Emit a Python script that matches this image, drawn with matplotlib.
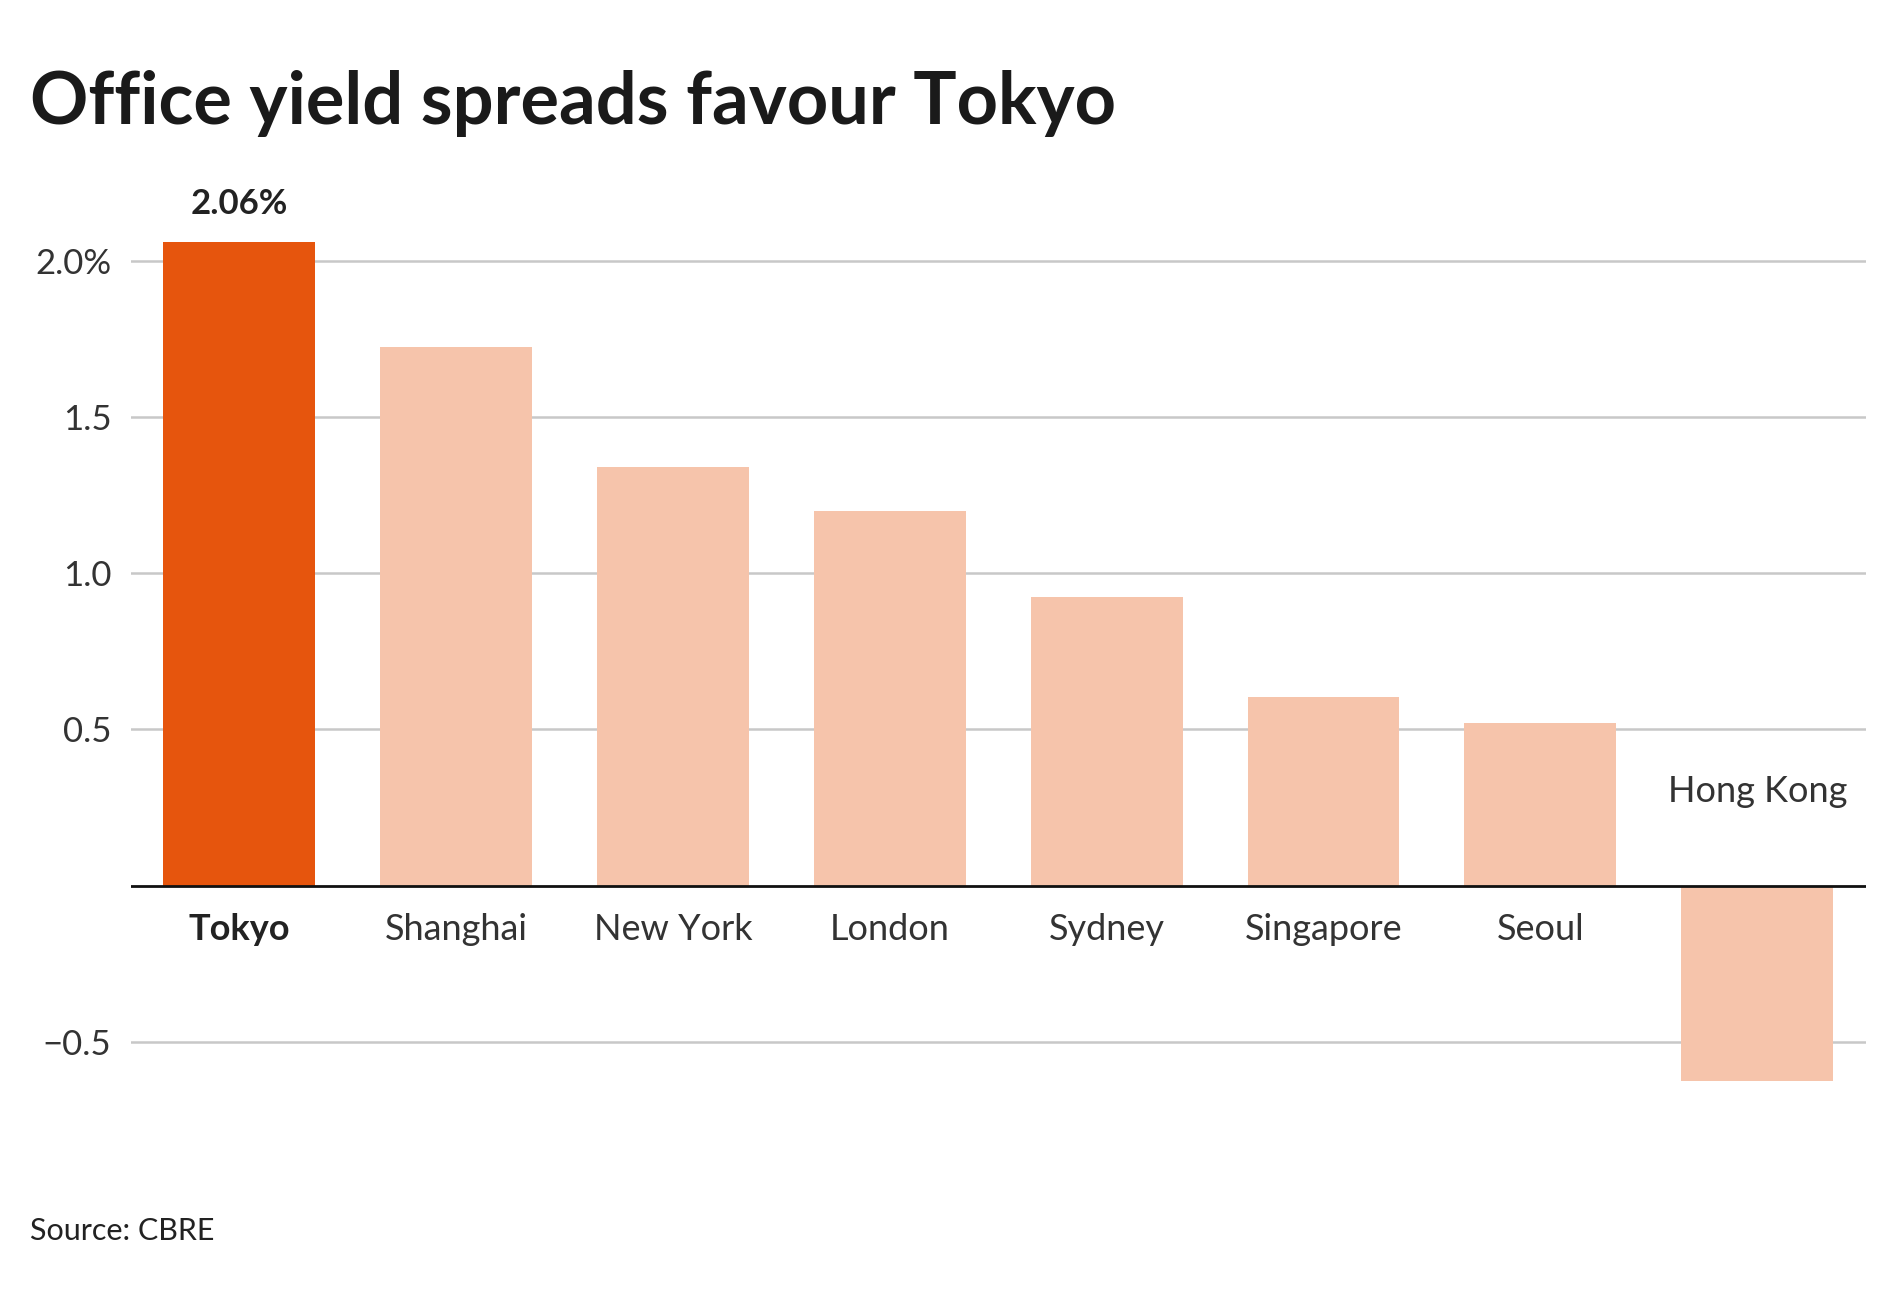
import matplotlib
matplotlib.use("Agg")
import matplotlib.pyplot as plt

cities = ["Tokyo", "Shanghai", "New York", "London", "Sydney", "Singapore", "Seoul", "Hong Kong"]
spreads = [2.06, 1.725, 1.34, 1.20, 0.925, 0.605, 0.52, -0.625]
yticks = [-0.5, 0.5, 1.0, 1.5, 2.0]
ytick_labels = ["\u22120.5", "0.5", "1.0", "1.5", "2.0%"]

FONT = "Lato"
fig = plt.figure(figsize=(18.96, 12.90), dpi=100)
ax = fig.add_axes([0.069, 0.156, 0.915, 0.666])

colors = ["#e6550d" if i == 0 else "#f6c4ab" for i in range(len(cities))]
x = list(range(len(cities)))
ax.bar(x, spreads, width=0.70, color=colors, zorder=2)
ax.set_xlim(-0.5, 7.5)
ax.set_ylim(-0.65, 2.1)
for t in yticks:
    ax.axhline(t, color="#c8c8c8", lw=1.8, zorder=1)
ax.axhline(0, color="#111111", lw=2, zorder=3)
ax.set_yticks(yticks)
ax.set_yticklabels(ytick_labels, fontsize=25, color="#333333", fontfamily=FONT)
ax.tick_params(axis="y", length=0, pad=14)
ax.set_xticks([])
for s in ax.spines.values():
    s.set_visible(False)

for i, (c, v) in enumerate(zip(cities, spreads)):
    if v >= 0:
        ax.text(i, -0.14, c, ha="center", va="center", fontsize=26, fontfamily=FONT,
                color="#222222" if i == 0 else "#333333",
                fontweight="bold" if i == 0 else "normal")
    else:
        ax.text(i, 0.30, c, ha="center", va="center", fontsize=26, fontfamily=FONT, color="#333333")
ax.text(0, spreads[0] + 0.07, f"{spreads[0]:.2f}%", ha="center", va="bottom",
        fontsize=25, fontweight="bold", fontfamily=FONT, color="#222222")

fig.text(0.016, 0.92, "Office yield spreads favour Tokyo", fontsize=52, fontweight="bold",
         fontfamily=FONT, color="#1a1a1a", va="center")
fig.text(0.016, 0.046, "Source: CBRE", fontsize=22, fontfamily=FONT, color="#222222", va="center")

fig.savefig("out.png", dpi=100, facecolor="white")
